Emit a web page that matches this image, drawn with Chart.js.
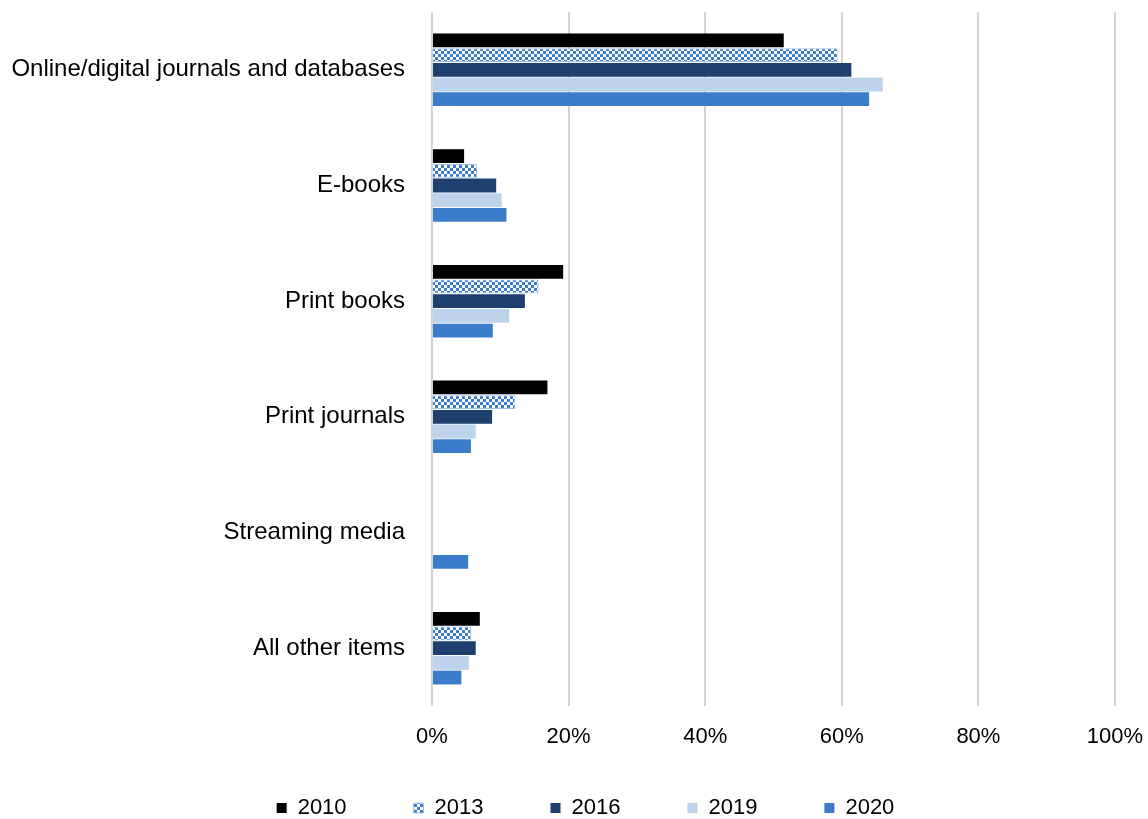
<!DOCTYPE html>
<html>
<head>
<meta charset="utf-8">
<script src="https://cdn.jsdelivr.net/npm/chart.js@4/dist/chart.umd.min.js"></script>
<style>
  html, body { margin: 0; padding: 0; background: #ffffff; }
  #wrap { width: 1148px; height: 819px; position: relative; }
</style>
</head>
<body>
<div id="wrap"><canvas id="chart" width="1148" height="819"></canvas></div>
<script>
// Resource categories (top to bottom)
const categories = [
  'Online/digital journals and databases',
  'E-books',
  'Print books',
  'Print journals',
  'Streaming media',
  'All other items'
];

// Share of spending by survey year (%)
const years = ['2010', '2013', '2016', '2019', '2020'];
const values2010 = [51.5, 4.7, 19.2, 16.9, null, 7.0];
const values2013 = [59.4, 6.6, 15.6, 12.2, null, 5.7];
const values2016 = [61.4, 9.4, 13.6, 8.8, null, 6.4];
const values2019 = [66.0, 10.2, 11.3, 6.4, null, 5.4];
const values2020 = [64.0, 10.9, 8.9, 5.7, 5.3, 4.3];

// Percentage axis ticks
const axisTicks = [0, 20, 40, 60, 80, 100];

const FONT = "'Liberation Sans', Arial, sans-serif";

// Blue/white checkerboard fill for the 2013 series
function checkerPattern(color) {
  const c = document.createElement('canvas');
  c.width = 6; c.height = 6;
  const g = c.getContext('2d');
  g.fillStyle = '#ffffff';
  g.fillRect(0, 0, 6, 6);
  g.fillStyle = color;
  g.fillRect(0, 0, 3, 3);
  g.fillRect(3, 3, 3, 3);
  return g.createPattern(c, 'repeat');
}

const ctx = document.getElementById('chart').getContext('2d');
const checker = checkerPattern('#3b7dcb');

// Places the legend row below the axis labels
const legendPlacement = {
  id: 'legendPlacement',
  afterLayout(chart) {
    const lg = chart.legend;
    if (!lg) return;
    const dx = 28;
    lg.left += dx; lg.right += dx;
    lg.top = 730; lg.bottom = 819;
    lg.height = lg.bottom - lg.top;
  }
};

new Chart(ctx, {
  type: 'bar',
  data: {
    labels: categories,
    datasets: [
      { label: years[0], data: values2010, backgroundColor: '#000000', borderWidth: 0 },
      { label: years[1], data: values2013, backgroundColor: checker, borderColor: '#9fc0e8', borderWidth: 1 },
      { label: years[2], data: values2016, backgroundColor: '#1f406e', borderWidth: 0 },
      { label: years[3], data: values2019, backgroundColor: '#bdd2eb', borderWidth: 0 },
      { label: years[4], data: values2020, backgroundColor: '#3b7dcb', borderWidth: 0 }
    ]
  },
  options: {
    indexAxis: 'y',
    responsive: false,
    animation: false,
    devicePixelRatio: 1,
    categoryPercentage: 0.635,
    barPercentage: 0.94,
    layout: { padding: { top: 12, right: 33, bottom: 0, left: 0 } },
    plugins: {
      tooltip: { enabled: false },
      legend: {
        position: 'bottom',
        align: 'center',
        maxHeight: 40,
        labels: {
          boxWidth: 10,
          boxHeight: 10,
          padding: 67,
          color: '#000000',
          font: { family: FONT, size: 22 }
        }
      }
    },
    scales: {
      x: {
        min: axisTicks[0],
        max: axisTicks[axisTicks.length - 1],
        afterBuildTicks(scale) {
          scale.ticks = axisTicks.map(v => ({ value: v }));
        },
        afterFit(scale) {
          scale.height = 73;
          scale.paddingLeft = 0;
          scale.paddingRight = 0;
        },
        border: { display: false },
        grid: { color: '#d4d4d4', lineWidth: 2, drawTicks: false },
        ticks: {
          padding: 18,
          color: '#000000',
          font: { family: FONT, size: 22 },
          maxRotation: 0,
          callback: v => v + '%'
        }
      },
      y: {
        afterFit(scale) {
          scale.width = 432;
          scale.paddingTop = 0;
          scale.paddingBottom = 0;
        },
        border: { display: false },
        grid: { display: false, drawTicks: false },
        ticks: {
          padding: 27,
          color: '#000000',
          font: { family: FONT, size: 24 }
        }
      }
    }
  },
  plugins: [legendPlacement]
});
</script>
</body>
</html>
